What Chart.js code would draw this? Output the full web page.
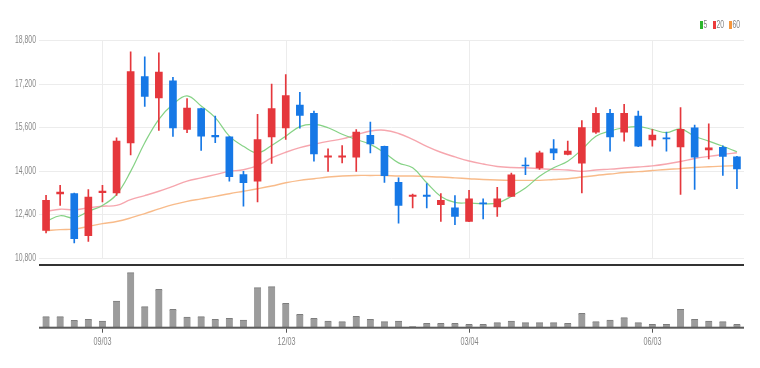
<!DOCTYPE html>
<html>
<head>
<meta charset="utf-8">
<script src="https://cdn.jsdelivr.net/npm/chart.js@4.4.1/dist/chart.umd.min.js"></script>
<style>
html,body{margin:0;padding:0;background:#fff;}
canvas{display:block;}
</style>
</head>
<body>
<canvas id="c" width="760" height="368"></canvas>
<script>
const labels = ['08/06','08/13','08/20','08/27','09/03','09/10','09/17','09/24','10/01','10/08',
 '10/15','10/22','10/29','11/05','11/12','11/19','11/26','12/03','12/10','12/17',
 '12/24','12/31','01/07','01/14','01/21','01/28','02/04','02/11','02/18','02/25',
 '03/04','03/11','03/18','03/25','04/01','04/08','04/15','04/22','04/29','05/06',
 '05/13','05/20','05/27','06/03','06/10','06/17','06/24','07/01','07/08','07/15'];
const tickLabels = ['09/03','12/03','03/04','06/03'];
const priceTicks = [10800,12400,14000,15600,17200,18800];

const open  = [11810,13150,13160,11620,13200,13190,15020,17460,16670,17300,
 15520,16280,15300,15250,13860,13620,15240,15570,16410,16110,
 14500,14500,14500,15300,14900,13580,13060,13110,12760,12640,
 12140,12820,12670,13060,14210,14110,14810,14600,14280,15420,
 16110,15420,16010,15130,15210,14880,15580,14770,14860,14510];
const high  = [13100,13470,13180,13310,13470,15210,18370,18180,18330,17430,
 16650,16300,16010,15260,13980,16070,17180,17530,16880,16190,
 14810,14930,15510,15790,14910,13740,13150,13530,13160,13090,
 13280,12970,13390,13920,14480,14720,15150,15090,15840,16320,
 16260,16440,16190,15510,15420,16320,15680,15720,14920,14530];
const low   = [11720,12730,11350,11410,12860,13100,14580,16360,15480,15260,
 15400,14750,15030,13620,12700,12860,14270,15150,15560,14350,
 13980,14290,13980,14660,13570,12080,12640,12640,12140,12020,
 12130,12230,12330,13060,13860,14050,14410,14580,13190,15370,
 14720,15090,14890,14900,14720,13130,13320,14440,13830,13340];
const close = [12920,13220,11510,13040,13260,15090,17640,16730,17620,15570,
 16300,15270,15240,13780,13560,15150,16280,16760,16030,14620,
 14550,14550,15420,14990,13820,12730,13110,13060,12920,12330,
 12970,12780,12970,13850,14180,14660,14660,14720,15590,16110,
 15240,16110,14900,15310,15170,15520,14500,14840,14530,14070];
const ma5  = [12140,12350,12270,12510,12730,13130,13980,15030,15890,16440,
 16750,16380,15950,15270,14900,14660,14930,15270,15620,15700,
 15580,15340,15150,14970,14660,14290,14110,13560,13060,12840,
 12820,12790,12820,13060,13370,13800,14110,14350,14780,15270,
 15460,15580,15620,15520,15400,15540,15270,15090,14900,14700];
const ma20 = [12510,12590,12570,12640,12700,12730,12940,13090,13250,13430,
 13620,13740,13860,13980,14040,14190,14470,14680,14850,14970,
 15080,15170,15320,15460,15490,15370,15150,14900,14680,14510,
 14360,14250,14160,14120,14110,14080,14050,14030,13980,14030,
 14060,14100,14140,14180,14250,14340,14450,14530,14600,14660];
const ma60 = [11800,11840,11860,11960,12060,12140,12270,12430,12600,12760,
 12880,12970,13060,13160,13250,13340,13440,13560,13650,13710,
 13770,13810,13830,13830,13830,13810,13810,13790,13770,13740,
 13710,13680,13660,13650,13650,13650,13680,13710,13770,13830,
 13880,13940,13970,14010,14050,14080,14120,14150,14170,14190];
const volume = [110000,110000,74000,84000,67000,267000,550000,210000,384000,184000,
 107000,110000,84000,94000,77000,400000,410000,244000,134000,94000,
 67000,60000,114000,84000,60000,67000,10000,44000,44000,44000,
 34000,34000,50000,67000,50000,50000,50000,44000,144000,60000,
 77000,100000,50000,34000,34000,184000,84000,67000,60000,34000];

const RED = '#e5373c', BLUE = '#1678e6';
const FONT = '"Liberation Sans Narrow", "Liberation Sans", sans-serif';
const candleColor = c => close[c.dataIndex] >= open[c.dataIndex] ? RED : BLUE;

const overlay = {
  id: 'overlay',
  beforeDatasetsDraw(chart) {
    const ctx = chart.ctx, x = chart.scales.x, y = chart.scales.y, a = chart.chartArea;
    ctx.save();
    ctx.strokeStyle = '#ececec';
    ctx.lineWidth = 1;
    const yTop = y.getPixelForValue(priceTicks[priceTicks.length - 1]);
    const yBot = y.getPixelForValue(priceTicks[0]);
    priceTicks.forEach(v => {
      const py = Math.round(y.getPixelForValue(v)) + 0.5;
      ctx.beginPath(); ctx.moveTo(a.left, py); ctx.lineTo(a.right, py); ctx.stroke();
    });
    tickLabels.forEach(t => {
      const px = Math.round(x.getPixelForValue(labels.indexOf(t))) + 0.5;
      ctx.beginPath(); ctx.moveTo(px, yTop); ctx.lineTo(px, yBot); ctx.stroke();
    });
    ctx.restore();
  },
  afterDraw(chart) {
    const ctx = chart.ctx, x = chart.scales.x, y = chart.scales.y, a = chart.chartArea;
    ctx.save();
    // divider between panels
    ctx.fillStyle = '#333';
    ctx.fillRect(a.left, 264, a.right - a.left, 2);
    // volume baseline
    ctx.fillStyle = '#5a5a5a';
    ctx.fillRect(a.left, a.bottom - 1, a.right - a.left, 2);
    // tick marks + x labels
    ctx.font = '11px ' + FONT;
    ctx.textAlign = 'center';
    ctx.textBaseline = 'middle';
    tickLabels.forEach(t => {
      const px = Math.round(x.getPixelForValue(labels.indexOf(t)));
      ctx.fillStyle = '#555';
      ctx.fillRect(px, a.bottom + 1, 1, 4);
      ctx.fillStyle = '#888';
      ctx.fillText(t, px + 0.5, 342, 18);
    });
    // y labels
    ctx.fillStyle = '#888';
    ctx.textAlign = 'right';
    priceTicks.forEach(v => {
      ctx.fillText(v.toLocaleString('en-US'), 36, y.getPixelForValue(v), 21);
    });
    // legend
    const items = [['5', '#2cb52c', 700], ['20', '#ec3a3a', 713], ['60', '#f5963c', 729]];
    ctx.font = '10px ' + FONT;
    ctx.textAlign = 'left';
    items.forEach(([t, col, lx]) => {
      ctx.fillStyle = col;
      ctx.fillRect(lx, 21, 3, 8);
      ctx.fillStyle = '#808080';
      ctx.fillText(t, lx + 3.5, 25.5, t.length * 3.8);
    });
    ctx.restore();
  }
};

new Chart(document.getElementById('c'), {
  data: {
    labels: labels,
    datasets: [
      { type: 'bar', label: 'body', data: labels.map((_, i) => [open[i], close[i]]),
        backgroundColor: candleColor, borderWidth: 0, barThickness: 7, grouped: false,
        yAxisID: 'y', order: 1 },
      { type: 'bar', label: 'wick', data: labels.map((_, i) => [low[i], high[i]]),
        backgroundColor: candleColor, borderWidth: 0, barThickness: 1, grouped: false,
        yAxisID: 'y', order: 2 },
      { type: 'line', label: '5', data: ma5, borderColor: 'rgba(120,205,120,0.9)',
        borderWidth: 1.2, pointRadius: 0, tension: 0.4, yAxisID: 'y', order: 3 },
      { type: 'line', label: '20', data: ma20, borderColor: 'rgba(244,150,160,0.85)',
        borderWidth: 1.4, pointRadius: 0, tension: 0.4, yAxisID: 'y', order: 3 },
      { type: 'line', label: '60', data: ma60, borderColor: 'rgba(247,180,125,0.9)',
        borderWidth: 1.4, pointRadius: 0, tension: 0.4, yAxisID: 'y', order: 3 },
      { type: 'bar', label: 'vol', data: volume, backgroundColor: '#9c9c9c',
        borderColor: '#7d7d7d', borderWidth: { top: 1, left: 0, right: 0, bottom: 0 },
        borderSkipped: false, barThickness: 7, grouped: false, yAxisID: 'yv', order: 4 }
    ]
  },
  options: {
    responsive: false,
    animation: false,
    devicePixelRatio: 1,
    layout: { padding: { left: 39, right: 16, top: 40, bottom: 40.3 } },
    plugins: { legend: { display: false }, tooltip: { enabled: false } },
    scales: {
      x: { type: 'category', offset: true, display: false },
      y: { type: 'linear', display: false, min: 8242, max: 18800 },
      yv: { type: 'linear', display: false, min: 0, max: 2877000 }
    }
  },
  plugins: [overlay]
});
</script>
</body>
</html>
